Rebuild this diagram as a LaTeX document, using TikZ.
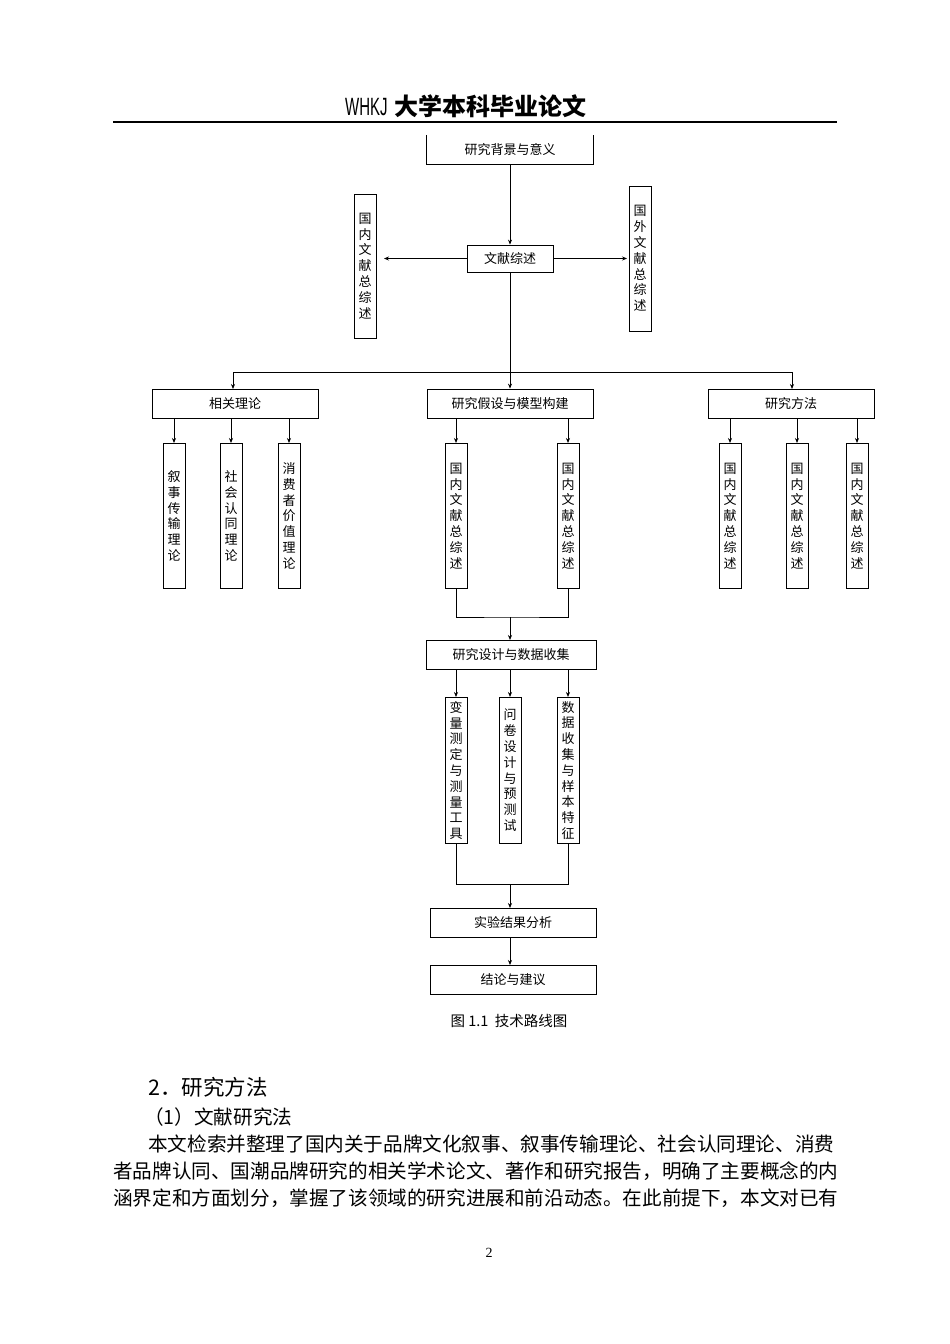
\documentclass[tikz,border=0pt]{standalone}
\usepackage{fontspec}
\setmainfont{Liberation Serif}
\newfontfamily\cjk{Noto Sans CJK SC}
\newfontfamily\narrow{Liberation Sans}[FakeStretch=0.6]
\usetikzlibrary{arrows.meta}
\begin{document}
\begin{tikzpicture}[x=1pt,y=-1pt,
  bx/.style={draw,line width=0.8pt,inner sep=0pt,font=\cjk\fontsize{13}{14}\selectfont},
  vb/.style={draw,line width=0.8pt,inner sep=0pt,minimum width=22pt,font=\cjk\fontsize{13}{15.8}\selectfont,align=center},
  ar/.style={line width=0.7pt,-{Stealth[length=5pt,width=4pt]}},
  ln/.style={line width=0.7pt},
  body/.style={anchor=west,inner sep=0pt,font=\cjk\fontsize{19.6}{22}\selectfont}]
\useasboundingbox (0,0) rectangle (950,1344);
% header
\node[inner sep=0pt,anchor=west] (hdr) at (345,106) {{\fontsize{25}{26}\selectfont\narrow WHKJ}\hspace{7pt}{\cjk\bfseries\fontsize{24}{26}\selectfont 大学本科毕业论文}};
\draw[line width=1.8pt] (113,122) coordinate (hl) -- (837,122) coordinate (hr);
% top box (top edge hidden)
\node[minimum width=166pt,minimum height=29pt,font=\cjk\fontsize{13}{14}\selectfont] (bg) at (510,149.5) {研究背景与意义};
\draw[line width=0.8pt] (bg.north west) -- (bg.south west) -- (bg.south east) -- (bg.north east);
\node[bx,minimum width=86pt,minimum height=27pt] (wx) at (510,258.5) {文献综述};
\node[vb,minimum height=144pt] (gn) at (365,266) {国\\内\\文\\献\\总\\综\\述};
\node[vb,minimum height=145pt] (gw) at (640,258.5) {国\\外\\文\\献\\总\\综\\述};
\draw[ar] (bg.south) -- (wx.north);
\draw[ar] (wx.west) -- (384,258.5) coordinate (gna);
\draw[ar] (wx.east) -- (627,258.5) coordinate (gwa);
% level 2
\node[bx,minimum width=166pt,minimum height=29pt] (xg) at (235,403.5) {相关理论};
\node[bx,minimum width=166pt,minimum height=29pt] (yj) at (510,403.5) {研究假设与模型构建};
\node[bx,minimum width=166pt,minimum height=29pt] (ff) at (791,403.5) {研究方法};
\draw[ar] (wx.south) -- (yj.north);
\draw[ln] (233,372) coordinate (hL) -- (792,372) coordinate (hR);
\draw[ar] (hL) -- (233,389);
\draw[ar] (hR) -- (792,389);
\foreach \x/\n/\t in {174/a1/{叙\\事\\传\\输\\理\\论},231/a2/{社\\会\\认\\同\\理\\论},289/a3/{消\\费\\者\\价\\值\\理\\论}}{
  \node[vb,minimum height=145pt,anchor=north] (\n) at (\x,443) {\t};
  \draw[ar] (\x,418) -- (\n.north);
}
\foreach \x/\n in {456/b1,568/b2}{
  \node[vb,minimum height=145pt,anchor=north] (\n) at (\x,443) {国\\内\\文\\献\\总\\综\\述};
  \draw[ar] (\x,418) -- (\n.north);
}
\foreach \x/\n in {730/c1,797/c2,857/c3}{
  \node[vb,minimum height=145pt,anchor=north] (\n) at (\x,443) {国\\内\\文\\献\\总\\综\\述};
  \draw[ar] (\x,418) -- (\n.north);
}
\node[bx,minimum width=170pt,minimum height=29pt] (sj) at (511,654.5) {研究设计与数据收集};
\draw[ln] (b1.south) |- (511,617) coordinate (m1) -| (b2.south);
\draw[ar] (510,617) -- (510,640);
\foreach \x/\n/\t in {456/d1/{变\\量\\测\\定\\与\\测\\量\\工\\具},510/d2/{问\\卷\\设\\计\\与\\预\\测\\试},568/d3/{数\\据\\收\\集\\与\\样\\本\\特\\征}}{
  \node[vb,minimum height=146pt,anchor=north] (\n) at (\x,697) {\t};
  \draw[ar] (\x,669) -- (\n.north);
}
\node[bx,minimum width=166pt,minimum height=29pt] (jg) at (513,922.5) {实验结果分析};
\node[bx,minimum width=166pt,minimum height=29pt] (jl) at (513,979.5) {结论与建议};
\draw[ln] (d1.south) |- (511,884) coordinate (m2) -| (d3.south);
\draw[ar] (510,884) -- (510,908);
\draw[ar] (510,937) -- (510,965);
\node[font=\cjk\fontsize{14.5}{16}\selectfont] (cap) at (509,1021) {图 1.1\ \ 技术路线图};
% body
\node[anchor=west,inner sep=0pt,font=\cjk\fontsize{21.5}{24}\selectfont] (h2) at (148,1087) {2．研究方法};
\node[anchor=west,inner sep=0pt,font=\cjk\fontsize{19.6}{22}\selectfont] (h3) at (144,1117) {（1）文献研究法};
\node[body] (p1) at (148,1144) {本文检索并整理了国内关于品牌文化叙事、叙事传输理论、社会认同理论、消费};
\node[body] (p2) at (113,1171) {者品牌认同、国潮品牌研究的相关学术论文、著作和研究报告，明确了主要概念的内};
\node[body] (p3) at (113,1198) {涵界定和方面划分，掌握了该领域的研究进展和前沿动态。在此前提下，本文对已有};
\node[font=\fontsize{14}{15}\selectfont] (pg) at (489,1253) {2};
\end{tikzpicture}
\end{document}
